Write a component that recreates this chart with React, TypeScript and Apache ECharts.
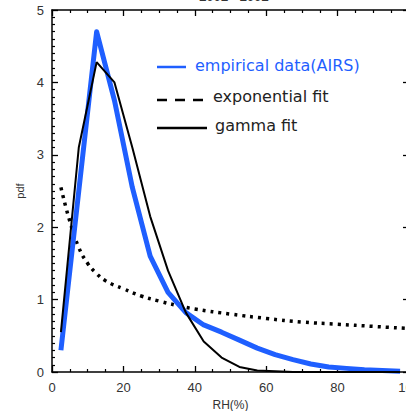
import React, { useEffect, useRef } from "react";
import * as echarts from "echarts";

const binCenters = [2.5, 7.5, 12.5, 17.5, 22.5, 27.5, 32.5, 37.5, 42.5, 47.5, 52.5, 57.5, 62.5, 67.5, 72.5, 77.5, 82.5, 87.5, 92.5, 97.5];
const empiricalPdf = [0.3, 2.5, 4.7, 3.75, 2.55, 1.6, 1.1, 0.82, 0.65, 0.55, 0.44, 0.33, 0.24, 0.17, 0.11, 0.07, 0.05, 0.03, 0.02, 0.01];
const gammaPdf = [0.55, 3.1, 4.28, 4.0, 3.1, 2.15, 1.4, 0.82, 0.42, 0.2, 0.07, 0.02, 0.01, 0.0, 0.0, 0.0, 0.0, 0.0, 0.0, 0.0];
const expX = [2.5, 5, 7.5, 10, 12.5, 15, 20, 25, 30, 35, 40, 50, 60, 70, 80, 90, 100];
const expPdf = [2.55, 2.08, 1.72, 1.5, 1.36, 1.26, 1.15, 1.05, 0.98, 0.92, 0.87, 0.8, 0.74, 0.69, 0.66, 0.63, 0.6];
const xTicks = [0, 20, 40, 60, 80, 100];
const yTicks = [0, 1, 2, 3, 4, 5];

const BLUE = "#1f5fff";
const LABEL_FONT = "Liberation Sans";
const LEGEND_FONT = "DejaVu Sans";

export default function App() {
  const ref = useRef<HTMLDivElement>(null);
  useEffect(() => {
    if (!ref.current) return;
    const chart = echarts.init(ref.current, null, { renderer: "svg" });
    const axisCommon = {
      type: "value" as const,
      splitLine: { show: false },
      axisLine: { show: true, onZero: false, lineStyle: { color: "#000", width: 1.5 } },
      axisTick: { show: true, inside: true, length: 6, lineStyle: { color: "#000", width: 1.3 } },
    };
    const labelStyle = { color: "#333", fontFamily: LABEL_FONT, fontSize: 13 };
    chart.setOption({
      animation: false,
      backgroundColor: "#fff",
      grid: { left: 52, right: -3, top: 10, bottom: 39, containLabel: false, outerBoundsMode: "none" },
      xAxis: [
        {
          ...axisCommon,
          position: "bottom",
          min: xTicks[0],
          max: xTicks[xTicks.length - 1],
          interval: 20,
          minorTick: { show: true, splitNumber: 4, length: 3, lineStyle: { color: "#000", width: 1.2 } },
          axisLabel: { ...labelStyle, margin: 9 },
          name: "RH(%)",
          nameLocation: "middle",
          nameGap: 24,
          nameTextStyle: { color: "#333", fontFamily: LABEL_FONT, fontSize: 12 },
        },
        {
          ...axisCommon,
          position: "top",
          min: xTicks[0],
          max: xTicks[xTicks.length - 1],
          interval: 20,
          minorTick: { show: true, splitNumber: 4, length: 3, lineStyle: { color: "#000", width: 1.2 } },
          axisLabel: { show: false },
        },
      ],
      yAxis: [
        {
          ...axisCommon,
          position: "left",
          min: yTicks[0],
          max: yTicks[yTicks.length - 1],
          interval: 1,
          minorTick: { show: true, splitNumber: 10, length: 3, lineStyle: { color: "#000", width: 1.2 } },
          axisLabel: { ...labelStyle, margin: 8 },
          name: "pdf",
          nameLocation: "middle",
          nameGap: 22,
          nameRotate: 90,
          nameTextStyle: { color: "#333", fontFamily: LABEL_FONT, fontSize: 11 },
        },
        {
          ...axisCommon,
          position: "right",
          min: yTicks[0],
          max: yTicks[yTicks.length - 1],
          interval: 1,
          minorTick: { show: true, splitNumber: 10, length: 3, lineStyle: { color: "#000", width: 1.2 } },
          axisLabel: { show: false },
        },
      ],
      series: [
        {
          name: "exponential fit",
          type: "line",
          data: expX.map((x, i) => [x, expPdf[i]]),
          smooth: true,
          symbol: "none",
          lineStyle: { color: "#000", width: 3.5, type: [3, 5], cap: "butt" },
          z: 2,
        },
        {
          name: "empirical data(AIRS)",
          type: "line",
          data: binCenters.map((x, i) => [x, empiricalPdf[i]]),
          symbol: "none",
          lineStyle: { color: BLUE, width: 5, join: "round" },
          z: 3,
        },
        {
          name: "gamma fit",
          type: "line",
          data: binCenters.map((x, i) => [x, gammaPdf[i]]),
          symbol: "none",
          lineStyle: { color: "#000", width: 2 },
          z: 4,
        },
      ],
      graphic: [
        {
          type: "text",
          x: 234,
          y: 3,
          style: { text: "2002 - 2002", fill: "#333", font: `bold 13px ${LABEL_FONT}`, textAlign: "center", textVerticalAlign: "bottom" },
        },
        { type: "line", shape: { x1: 157, y1: 67, x2: 186, y2: 67 }, style: { stroke: BLUE, lineWidth: 2.5 } },
        {
          type: "text",
          x: 195,
          y: 65,
          style: { text: "empirical data(AIRS)", fill: BLUE, font: `16px ${LEGEND_FONT}`, textVerticalAlign: "middle" },
        },
        { type: "line", shape: { x1: 157, y1: 100, x2: 204, y2: 100 }, style: { stroke: "#000", lineWidth: 2.5, lineDash: [10, 8] } },
        {
          type: "text",
          x: 213,
          y: 96,
          style: { text: "exponential fit", fill: "#222", font: `16px ${LEGEND_FONT}`, textVerticalAlign: "middle" },
        },
        { type: "line", shape: { x1: 157, y1: 128, x2: 207, y2: 128 }, style: { stroke: "#000", lineWidth: 2.5 } },
        {
          type: "text",
          x: 215,
          y: 125,
          style: { text: "gamma fit", fill: "#222", font: `16px ${LEGEND_FONT}`, textVerticalAlign: "middle" },
        },
      ],
    });
    return () => chart.dispose();
  }, []);
  return <div ref={ref} style={{ position: "absolute", left: 0, top: 0, width: 406, height: 411 }} />;
}
